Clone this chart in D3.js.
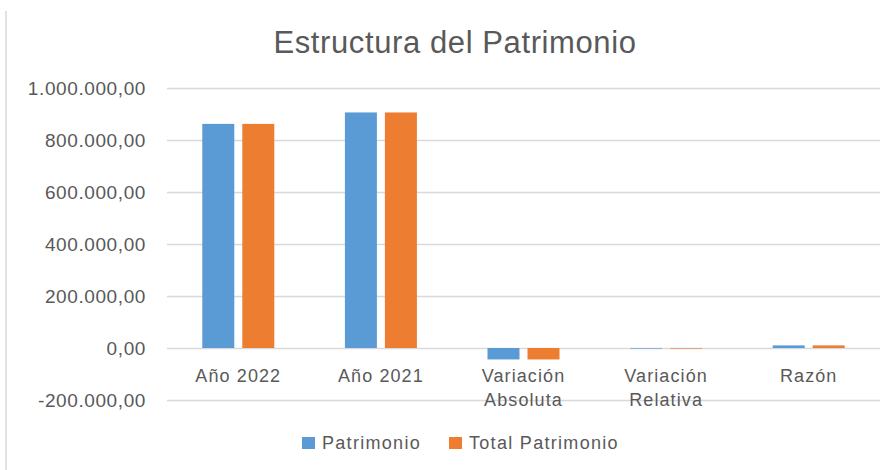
<!DOCTYPE html>
<html><head><meta charset="utf-8">
<script src="https://cdn.jsdelivr.net/npm/d3@7"></script>
<style>body{margin:0;background:#fff}svg{display:block}text{font-family:"Liberation Sans",Arial,sans-serif;fill:#595959}</style>
</head><body><svg id="c" width="890" height="470"></svg>
<script>
const categories = [["Año 2022"],["Año 2021"],["Variación","Absoluta"],["Variación","Relativa"],["Razón"]];
const patrimonio = [862000, 906000, -44000, -5, 10000];
const totalPatrimonio = [862000, 906000, -44000, -5, 10000];
const seriesNames = ["Patrimonio","Total Patrimonio"];
const colors = ["#5B9BD5","#ED7D31"];
const yTicks = [-200000,0,200000,400000,600000,800000,1000000];

const svg = d3.select("#c");
const m = {l:167, r:880, t:88, b:400};
const y = d3.scaleLinear().domain([-200000,1000000]).range([m.b, m.t]);
const x = d3.scaleBand().domain(d3.range(categories.length)).range([m.l, m.r]);
const inner = d3.scaleBand().domain([0,1]).range([0, 72]).paddingInner(0.2);

svg.append("line").attr("x1",6).attr("x2",6).attr("y1",11).attr("y2",470).attr("stroke","#d9d9d9").attr("stroke-width",1.5);

svg.append("text").attr("x",455).attr("y",53).attr("text-anchor","middle").style("font-size","31px").style("letter-spacing","0.6px").text("Estructura del Patrimonio");

const fmt = v => { const s = d3.format(",.2f")(v); return s.replace(/,/g,"#").replace(".",",").replace(/#/g,".").replace("−","-"); };
const ya = svg.append("g").attr("transform",`translate(${m.l},0)`)
  .call(d3.axisLeft(y).tickValues(yTicks).tickSize(-(m.r-m.l)).tickPadding(21).tickFormat(fmt));
ya.select(".domain").remove();
ya.selectAll(".tick line").attr("stroke","#d9d9d9").attr("stroke-width",1.3);
ya.selectAll(".tick text").style("font-size","19px").style("letter-spacing","0.6px").attr("fill","#595959").attr("dy","0.36em");

const series = [patrimonio, totalPatrimonio];
series.forEach((vals, si) => {
  svg.append("g").selectAll("rect").data(vals).join("rect")
    .attr("x",(d,i)=>x(i)+x.bandwidth()/2-36+inner(si))
    .attr("width",inner.bandwidth())
    .attr("y",d=>y(Math.max(0,d)))
    .attr("height",d=>Math.max(Math.abs(y(d)-y(0)),0.6))
    .attr("fill",colors[si]);
});

const xl = svg.append("g");
categories.forEach((lines,i)=>{
  const t = xl.append("text").attr("x",x(i)+x.bandwidth()/2).attr("y",382).attr("text-anchor","middle").style("font-size","18px").style("letter-spacing","1.1px");
  lines.forEach((ln,j)=>t.append("tspan").attr("x",x(i)+x.bandwidth()/2).attr("dy", j===0?0:24).text(ln));
});

const lg = svg.append("g");
const lx = [302, 449];
seriesNames.forEach((n,i)=>{
  lg.append("rect").attr("x",lx[i]).attr("y",437).attr("width",13).attr("height",12).attr("fill",colors[i]);
  lg.append("text").attr("x",lx[i]+20).attr("y",449).style("font-size","18px").style("letter-spacing","1.3px").text(n);
});
</script></body></html>
